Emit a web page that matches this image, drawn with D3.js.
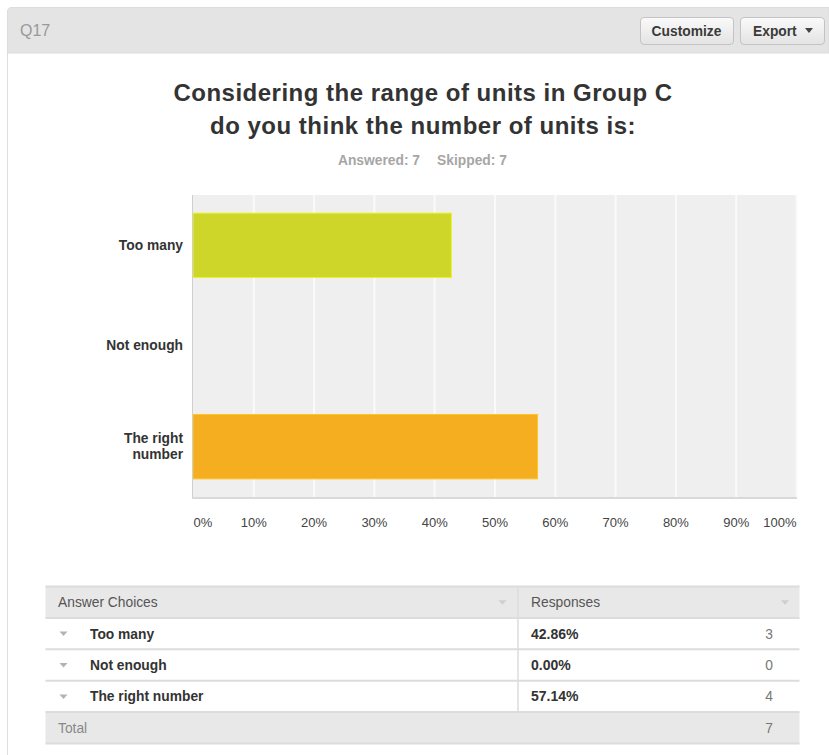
<!DOCTYPE html>
<html>
<head>
<meta charset="utf-8">
<script src="https://cdn.jsdelivr.net/npm/d3@7/dist/d3.min.js"></script>
<style>
  html, body { margin: 0; padding: 0; background: #fff; }
  svg { display: block; font-family: Arial, "Liberation Sans", Helvetica, sans-serif; }
</style>
</head>
<body>
<svg id="chart" width="829" height="755"></svg>
<script>
// Survey question and answers
const questionId = "Q17";
const titleLines = ["Considering the range of units in Group C", "do you think the number of units is:"];
const categories = ["Too many", "Not enough", "The right number"];
const percents = [42.86, 0.00, 57.14];
const counts = [3, 0, 4];
const answered = 7;
const skipped = 7;
const total = 7;
const xTickValues = [0, 10, 20, 30, 40, 50, 60, 70, 80, 90, 100];
const xTickLabels = ["0%", "10%", "20%", "30%", "40%", "50%", "60%", "70%", "80%", "90%", "100%"];
const palette = ["#cfd62a", "#6cc0bf", "#f6ae21"];

const svg = d3.select("#chart");

// ---- Panel header ----
const header = svg.append("g");
header.append("path")
  .attr("d", "M7.5,53 L7.5,12 Q7.5,7.5 12,7.5 L829,7.5 L829,53 Z")
  .attr("fill", "#e4e4e4").attr("stroke", "#dcdcdc");
svg.append("line").attr("x1", 7.5).attr("x2", 7.5).attr("y1", 53).attr("y2", 755)
  .attr("stroke", "#dedede");
header.append("text").attr("x", 20).attr("y", 36).text(questionId)
  .attr("font-size", 16).attr("fill", "#999");

const grad = svg.append("defs").append("linearGradient").attr("id", "btn")
  .attr("x1", 0).attr("x2", 0).attr("y1", 0).attr("y2", 1);
grad.append("stop").attr("offset", "0%").attr("stop-color", "#fafafa");
grad.append("stop").attr("offset", "100%").attr("stop-color", "#e3e3e3");

function button(x, w, label, caret) {
  const g = header.append("g");
  g.append("rect").attr("x", x + 0.5).attr("y", 17.5).attr("width", w).attr("height", 27)
    .attr("rx", 3.5).attr("fill", "url(#btn)").attr("stroke", "#c4c4c4");
  const t = g.append("text").attr("y", 35.5).attr("font-size", 13.8).attr("font-weight", "bold")
    .attr("fill", "#3a3a3a").text(label);
  if (caret) {
    t.attr("x", x + 13);
    const cx = x + w - 15;
    g.append("path").attr("d", `M${cx - 4},28 L${cx + 4},28 L${cx},33 Z`).attr("fill", "#444");
  } else {
    t.attr("x", x + w / 2).attr("text-anchor", "middle");
  }
}
button(640, 93, "Customize", false);
button(740, 84, "Export", true);

// ---- Title ----
svg.append("g").selectAll("text").data(titleLines).join("text")
  .attr("x", 423).attr("y", (d, i) => 101 + i * 33)
  .attr("text-anchor", "middle").attr("font-size", 24).attr("font-weight", "bold")
  .attr("letter-spacing", 0.5)
  .attr("fill", "#333").text(d => d);

svg.append("text").attr("x", 379).attr("y", 165).attr("text-anchor", "middle")
  .attr("font-size", 13.8).attr("font-weight", "bold").attr("fill", "#a6a6a6")
  .text(`Answered: ${answered}`);
svg.append("text").attr("x", 472).attr("y", 165).attr("text-anchor", "middle")
  .attr("font-size", 13.8).attr("font-weight", "bold").attr("fill", "#a6a6a6")
  .text(`Skipped: ${skipped}`);

// ---- Bar chart ----
const plot = { left: 193, right: 796, top: 195, bottom: 497 };
const x = d3.scaleLinear().domain([0, 100]).range([plot.left, plot.right]);
const y = d3.scaleBand().domain(categories).range([plot.top, plot.bottom])
  .paddingInner(0.36).paddingOuter(0.18);
const color = d3.scaleOrdinal().domain(categories).range(palette);

const chart = svg.append("g");
chart.append("rect").attr("x", plot.left).attr("y", plot.top)
  .attr("width", plot.right - plot.left).attr("height", plot.bottom - plot.top)
  .attr("fill", "#efefef");

// vertical gridlines
const grid = chart.append("g")
  .attr("transform", `translate(0,${plot.top})`)
  .call(d3.axisBottom(x).tickValues(xTickValues.slice(1)).tickSize(plot.bottom - plot.top).tickFormat(""));
grid.select(".domain").remove();
grid.selectAll(".tick line").attr("stroke", "#fafafa").attr("stroke-width", 2);

// bars
chart.append("g").selectAll("rect").data(categories).join("rect")
  .attr("x", x(0))
  .attr("y", d => y(d))
  .attr("width", (d, i) => x(percents[i]) - x(0))
  .attr("height", y.bandwidth())
  .attr("fill", d => color(d))
  .attr("stroke", d => d3.color(color(d)).brighter(0.35))
  .attr("stroke-width", (d, i) => percents[i] > 0 ? 1 : 0);

// axis lines
chart.append("line").attr("x1", plot.left - 0.5).attr("x2", plot.left - 0.5)
  .attr("y1", plot.top).attr("y2", plot.bottom).attr("stroke", "#cfcfcf");
chart.append("line").attr("x1", plot.left - 1).attr("x2", plot.right + 1)
  .attr("y1", plot.bottom + 1).attr("y2", plot.bottom + 1).attr("stroke", "#d9d9d9").attr("stroke-width", 2);

// x tick labels
const xAxis = chart.append("g")
  .attr("transform", `translate(0,${plot.bottom})`)
  .call(d3.axisBottom(x).tickValues(xTickValues).tickSize(0).tickPadding(21)
    .tickFormat((d, i) => xTickLabels[i]));
xAxis.select(".domain").remove();
xAxis.selectAll("text")
  .attr("font-size", 13).attr("font-family", null).attr("fill", "#444")
  .attr("text-anchor", (d, i) => i === 0 ? "start" : (i === xTickValues.length - 1 ? "end" : "middle"));

// y category labels (wrapped)
const yAxis = chart.append("g")
  .attr("transform", `translate(${plot.left},0)`)
  .call(d3.axisLeft(y).tickSize(0).tickPadding(10));
yAxis.select(".domain").remove();
yAxis.selectAll("text")
  .attr("font-size", 13.8).attr("font-weight", "bold").attr("font-family", null).attr("fill", "#333")
  .each(function (d) {
    const t = d3.select(this);
    const words = d.split(" ");
    const lines = [];
    let line = [];
    words.forEach(w => {
      line.push(w);
      t.text(line.join(" "));
      if (this.getComputedTextLength() > 85 && line.length > 1) {
        line.pop();
        lines.push(line.join(" "));
        line = [w];
      }
    });
    lines.push(line.join(" "));
    t.text(null);
    const xPos = t.attr("x");
    lines.forEach((l, i) => {
      t.append("tspan").attr("x", xPos)
        .attr("dy", i === 0 ? `${0.32 - (lines.length - 1) * 0.58}em` : "1.16em")
        .text(l);
    });
  });
yAxis.selectAll("text").attr("dy", null);

// ---- Summary table ----
const table = { left: 45.5, right: 799.5, split: 518, top: 586.5, rowH: 31.4 };
const tbl = svg.append("g");
const rowsY = d3.range(5).map(i => table.top + i * table.rowH);

// header and total backgrounds
tbl.append("rect").attr("x", table.left).attr("y", rowsY[0]).attr("width", table.right - table.left)
  .attr("height", table.rowH).attr("fill", "#e8e8e8");
tbl.append("rect").attr("x", table.left).attr("y", rowsY[4]).attr("width", table.right - table.left)
  .attr("height", table.rowH).attr("fill", "#e8e8e8");

// row borders
tbl.selectAll("line.h").data(d3.range(6)).join("line").attr("class", "h")
  .attr("x1", table.left).attr("x2", table.right)
  .attr("y1", i => table.top + i * table.rowH).attr("y2", i => table.top + i * table.rowH)
  .attr("stroke", "#dcdcdc").attr("stroke-width", 2);
tbl.append("line").attr("x1", table.split).attr("x2", table.split)
  .attr("y1", rowsY[0]).attr("y2", rowsY[4]).attr("stroke", "#dcdcdc").attr("stroke-width", 1.5);

function caret(cx, cy, fill) {
  tbl.append("path").attr("d", `M${cx - 4},${cy - 2} L${cx + 4},${cy - 2} L${cx},${cy + 2.5} Z`).attr("fill", fill);
}

const fs = 13.8;
const midY = i => rowsY[i] + table.rowH / 2;
tbl.append("text").attr("x", 58).attr("y", midY(0) + 5).attr("font-size", fs).attr("fill", "#555")
  .text("Answer Choices");
tbl.append("text").attr("x", 531).attr("y", midY(0) + 5).attr("font-size", fs).attr("fill", "#555")
  .text("Responses");
caret(502.5, midY(0), "#cfcfcf");
caret(785, midY(0), "#cfcfcf");

categories.forEach((c, i) => {
  const cy = midY(i + 1);
  caret(63.5, cy, "#b3b3b3");
  tbl.append("text").attr("x", 90).attr("y", cy + 5).attr("font-size", fs).attr("font-weight", "bold")
    .attr("fill", "#333").text(c);
  tbl.append("text").attr("x", 531).attr("y", cy + 5).attr("font-size", 14).attr("font-weight", "bold")
    .attr("fill", "#333").text(d3.format(".2f")(percents[i]) + "%");
  tbl.append("text").attr("x", 773).attr("y", cy + 5).attr("text-anchor", "end").attr("font-size", fs)
    .attr("fill", "#777").text(counts[i]);
});

tbl.append("text").attr("x", 58).attr("y", midY(4) + 5).attr("font-size", fs).attr("fill", "#888")
  .text("Total");
tbl.append("text").attr("x", 773).attr("y", midY(4) + 5).attr("text-anchor", "end").attr("font-size", fs)
  .attr("fill", "#777").text(total);
</script>
</body>
</html>
